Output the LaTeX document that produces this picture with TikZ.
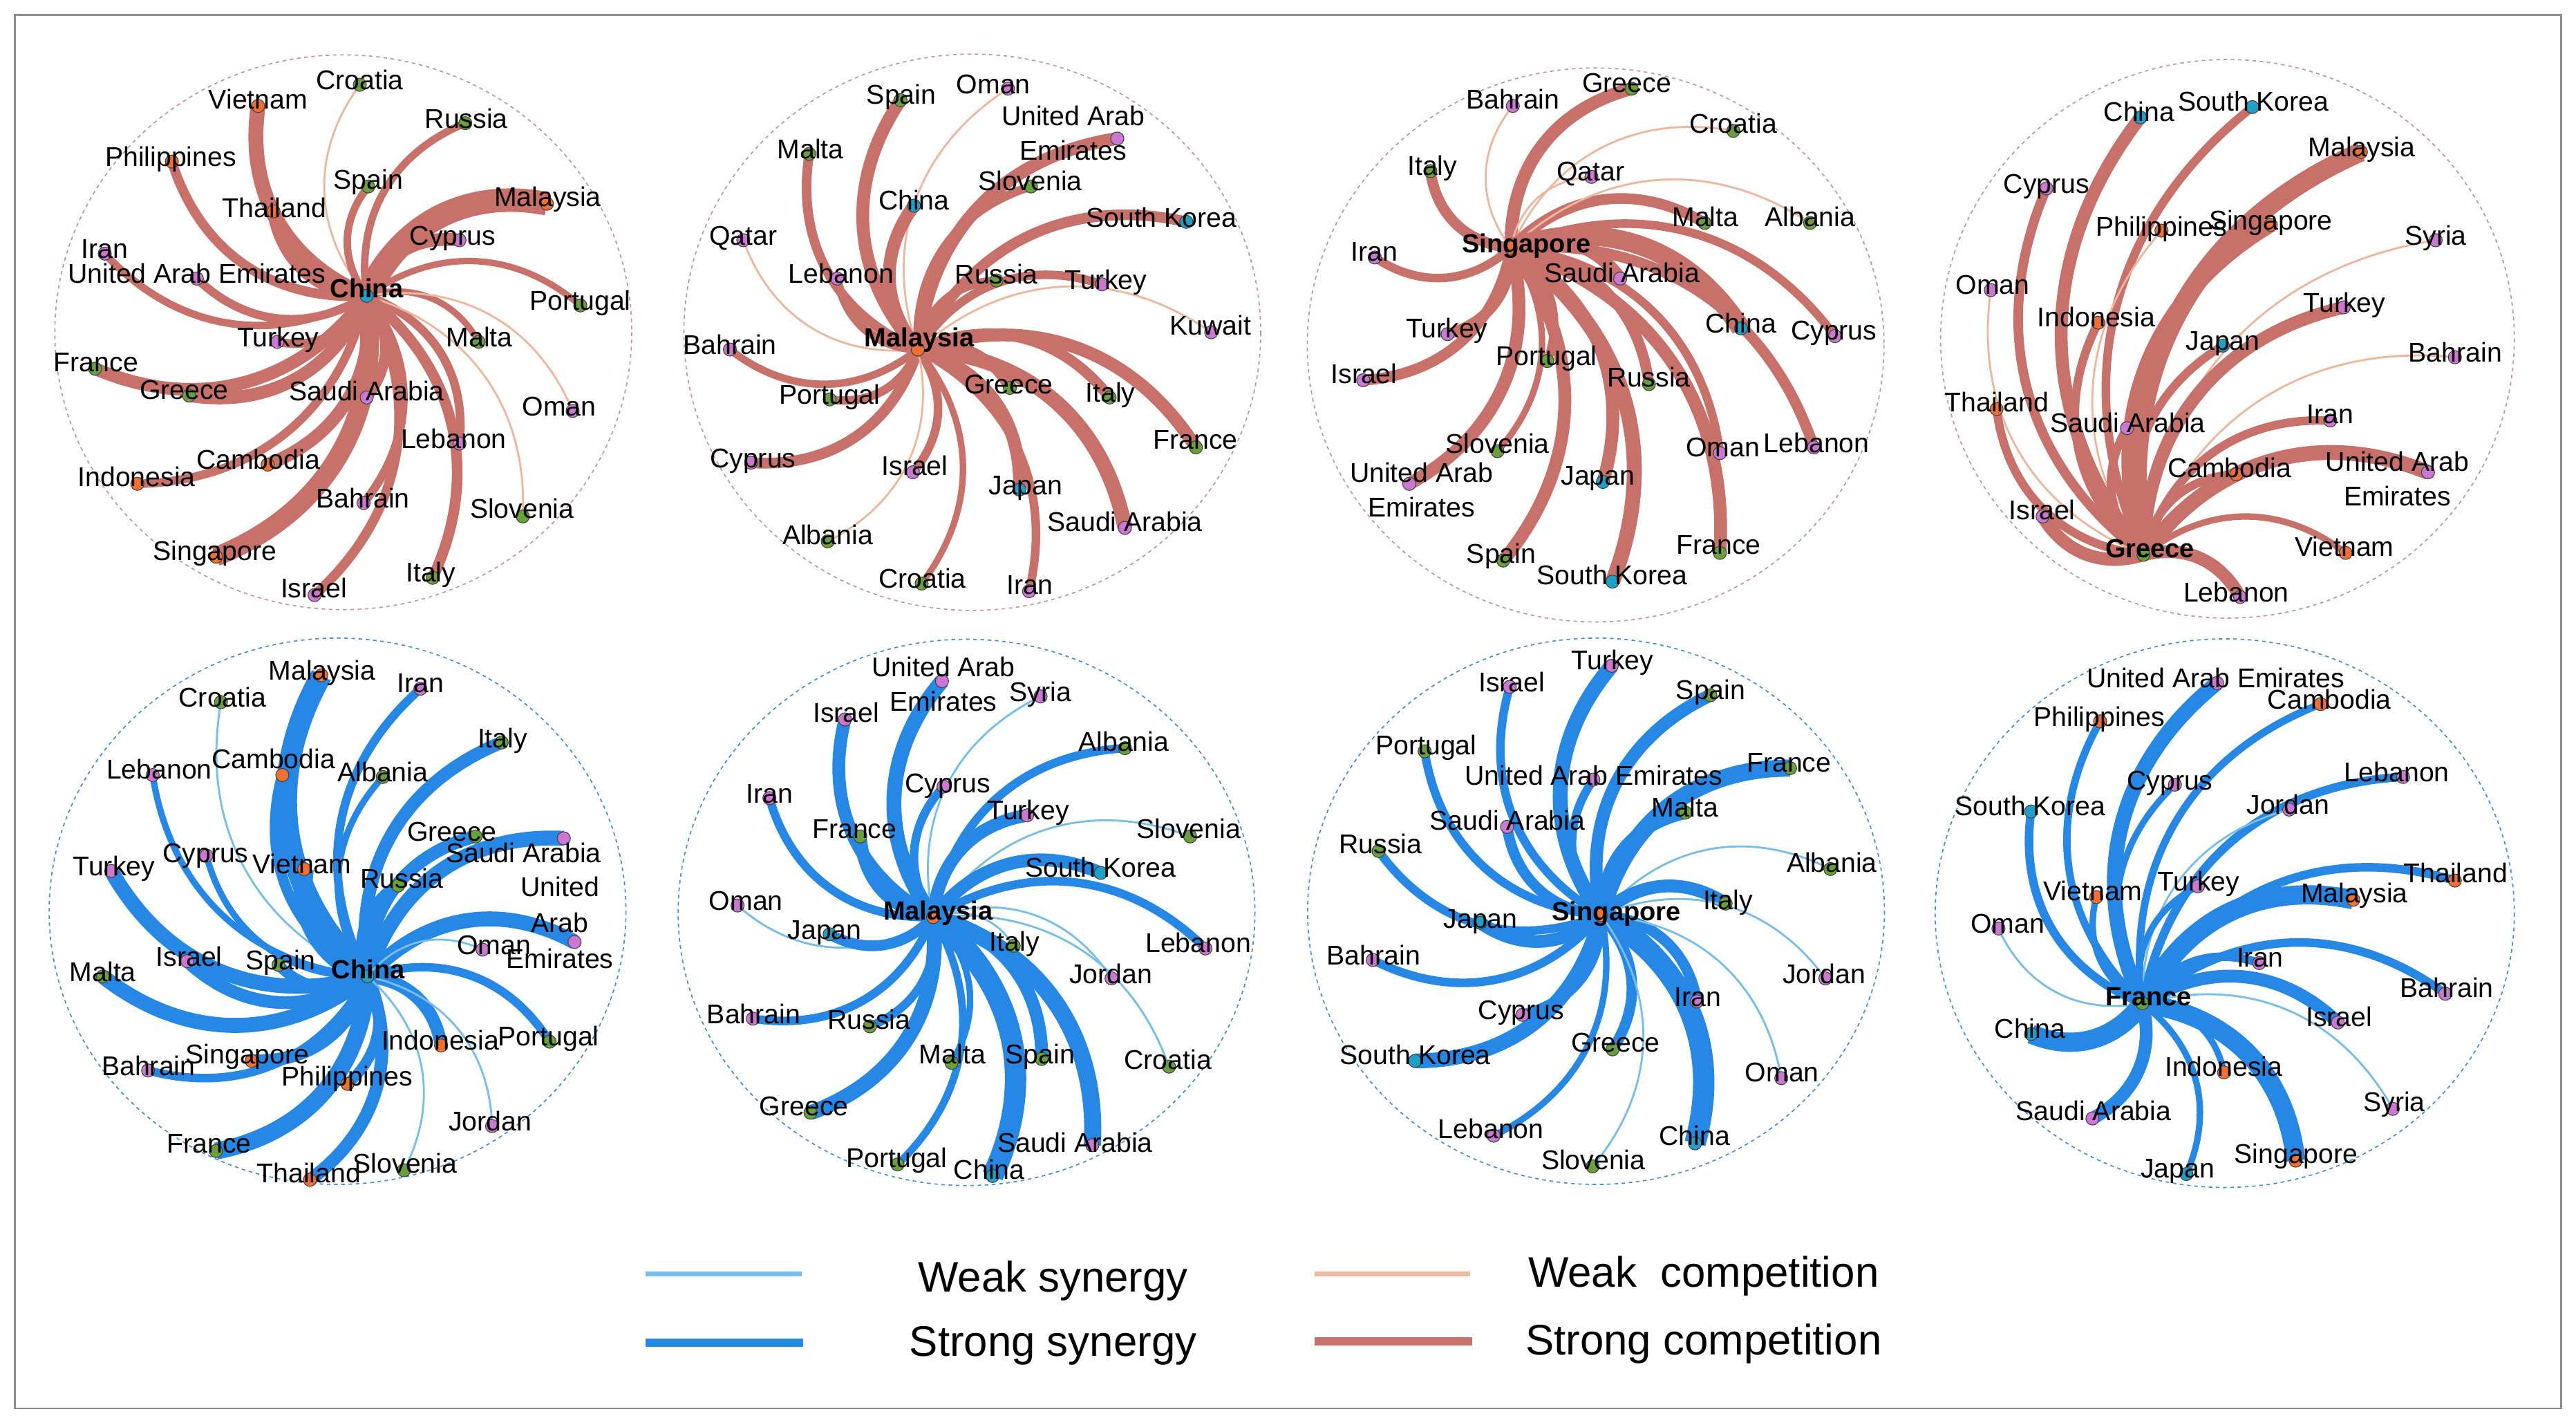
\documentclass[tikz,border=0pt]{standalone}
\usepackage{fontspec}
\setmainfont{Liberation Sans}
\usetikzlibrary{calc}
\pgfdeclarelayer{back}\pgfdeclarelayer{bg}\pgfdeclarelayer{fg}\pgfsetlayers{back,bg,main,fg}
\definecolor{csC}{RGB}{200,112,106}
\definecolor{cwC}{RGB}{236,184,158}
\definecolor{csS}{RGB}{38,136,228}
\definecolor{cwS}{RGB}{120,190,232}
\definecolor{grn}{RGB}{106,160,58}
\definecolor{pur}{RGB}{204,120,210}
\definecolor{org}{RGB}{240,112,50}
\definecolor{cyn}{RGB}{30,160,200}
\definecolor{ringT}{RGB}{195,150,150}
\definecolor{ringB}{RGB}{70,140,200}
\newcommand\twol[2]{\makebox[0pt]{#1}\makebox[0pt]{\raisebox{-21pt}[0pt][0pt]{#2}}}
\newcommand\threel[3]{\makebox[0pt]{#1}\makebox[0pt]{\raisebox{-22pt}[0pt][0pt]{#2}}\makebox[0pt]{\raisebox{-44pt}[0pt][0pt]{#3}}}
\tikzset{
  dot/.style={circle, draw=black!75, line width=0.45pt, inner sep=0pt, minimum size=8pt},
  lbl/.style={font=\fontsize{16.5}{19}\selectfont, inner sep=0pt, text height=11.8pt, text depth=0pt, anchor=center, yshift=1.8pt},
  hublbl/.style={lbl, font=\fontsize{16}{19}\selectfont\bfseries},
  cs/.style={draw=csC},
  cw/.style={draw=cwC},
  ss/.style={draw=csS},
  sw/.style={draw=cwS},
  ringtop/.style={draw=ringT, line width=0.7pt, dash pattern=on 2.2pt off 2.2pt},
  ringbot/.style={draw=ringB, line width=0.7pt, dash pattern=on 2.2pt off 2.2pt},
  leglbl/.style={font=\fontsize{26}{30}\selectfont, inner sep=0pt, text height=18.6pt, text depth=0pt, anchor=center},
  pscope/.style={scale=0.23344}
}
\newcommand\spokes[2]{%
  \foreach \nm/\px/\py/\col/\lx/\ly/\es/\ew [count=\i] in #2 {%
    \pgfmathsetmacro\lw{\ew>1.5 ? 1.3*\ew : \ew}%
    \node[dot, fill=\col] (#1-\i) at (\px,\py) {};
    \begin{pgfonlayer}{fg}\node[lbl] at (\lx,\ly) {\nm};\end{pgfonlayer}
    \begin{pgfonlayer}{bg}\draw[\es, line width=\lw pt] (#1.center) .. controls ($(#1.center)!0.40!38:(#1-\i.center)$) and ($(#1-\i.center)!0.40!-38:(#1.center)$) .. (#1-\i.center);\end{pgfonlayer}
  }}
\def\PA{Croatia/830/140/grn/830/135/cw/1.2,
Vietnam/565/195/org/565/185/cs/7,
Russia/1105/240/grn/1108/235/cs/3.5,
Philippines/340/340/org/337/335/cs/4.5,
Spain/852/405/grn/852/395/cs/3.5,
Malaysia/1318/450/org/1320/440/cs/11,
Thailand/605/470/org/607/468/cs/6,
Cyprus/1090/545/pur/1072/540/cs/6,
Iran/165/580/pur/165/575/cs/3.5,
United Arab Emirates/405/645/pur/405/640/cs/4,
Portugal/1405/715/grn/1405/710/cs/3,
Turkey/615/810/pur/617/805/cs/4,
Malta/1140/810/grn/1142/805/cs/3,
France/140/880/grn/142/870/cs/6,
Greece/385/950/grn/372/943/cs/6,
Saudi Arabia/848/955/pur/848/945/cs/5,
Oman/1385/990/pur/1350/985/cw/1.2,
Lebanon/1090/1075/pur/1075/1070/cs/4,
Cambodia/590/1130/org/565/1125/cs/6,
Indonesia/250/1180/org/248/1170/cs/4,
Bahrain/840/1230/pur/838/1225/cs/4,
Slovenia/1255/1265/grn/1253/1252/cw/1.2,
Singapore/455/1370/org/452/1362/cs/9,
Italy/1020/1425/grn/1015/1418/cs/5,
Israel/712/1470/pur/710/1460/cs/4.5}
\def\PB{Oman/880/150/pur/842/145/cw/1.2,
Spain/600/180/grn/602/172/cs/6,
\twol{United Arab}{Emirates}/1165/280/pur/1050/228/cs/6,
Malta/362/320/grn/365/315/cs/4.5,
Slovenia/940/405/grn/938/398/cs/4,
China/635/455/cyn/635/448/cs/6,
Qatar/190/545/pur/190/540/cw/1.2,
South Korea/1345/497/cyn/1280/493/cs/5,
Lebanon/435/645/pur/445/640/cs/4,
Russia/850/650/grn/850/642/cs/4,
Turkey/1125/660/pur/1135/655/cs/4,
Kuwait/1410/785/pur/1408/775/cw/1.2,
Bahrain/155/830/pur/155/825/cs/3.5,
Portugal/415/960/grn/415/955/cs/4,
Greece/885/930/grn/882/928/cs/5,
Italy/1145/955/grn/1147/950/cs/5,
France/1370/1085/grn/1369/1072/cs/6,
Cyprus/210/1125/pur/215/1120/cs/5,
Israel/632/1150/pur/637/1140/cs/4,
Japan/910/1195/cyn/926/1190/cs/6,
Saudi Arabia/1185/1295/pur/1185/1287/cs/7,
Albania/410/1330/grn/410/1320/cw/1.2,
Croatia/655/1440/grn/657/1435/cs/3,
Iran/935/1460/pur/937/1450/cs/4}
\def\PC{Greece/870/150/grn/857/142/cs/6,
Bahrain/560/195/pur/560/185/cw/1.2,
Croatia/1135/260/grn/1135/248/cw/1.2,
Italy/345/365/grn/350/358/cs/5,
Qatar/765/380/pur/763/372/cw/1.2,
Malta/1060/500/grn/1062/492/cs/5,
Albania/1335/500/grn/1335/492/cw/1.2,
Iran/200/590/pur/199/582/cs/4,
Saudi Arabia/840/645/pur/845/637/cs/6,
China/1155/775/cyn/1155/770/cs/9,
Cyprus/1400/795/pur/1397/788/cs/4,
Turkey/390/790/pur/388/782/cs/5,
Israel/170/910/pur/172/900/cs/5,
Portugal/650/860/grn/648/853/cs/4,
Russia/915/920/grn/915/910/cs/5,
Slovenia/520/1095/grn/520/1082/cs/3,
\twol{United Arab}{Emirates}/290/1180/pur/322/1158/cs/6,
Japan/795/1175/cyn/782/1165/cs/6,
Oman/1100/1100/pur/1108/1092/cs/4,
Lebanon/1345/1085/pur/1352/1080/cs/5,
Spain/535/1380/grn/530/1370/cs/6,
France/1100/1360/grn/1097/1345/cs/6,
South Korea/820/1435/cyn/819/1425/cs/7}
\def\PD{China/560/225/cyn/557/218/cs/6,
South Korea/852/198/cyn/855/190/cs/4,
Malaysia/1135/315/org/1137/310/cs/9,
Cyprus/315/410/pur/315/405/cs/4.5,
Philippines/615/520/org/615/517/cw/1.2,
Singapore/900/505/org/900/500/cs/7,
Syria/1330/545/pur/1330/540/cw/1.2,
Oman/170/675/pur/175/668/cw/1.2,
Indonesia/450/760/org/445/752/cs/4,
Turkey/1090/720/pur/1092/715/cs/6,
Japan/775/820/cyn/775/815/cs/4,
Bahrain/1380/850/pur/1381/845/cw/1.2,
Thailand/185/985/org/185/975/cs/4,
Saudi Arabia/525/1035/pur/527/1028/cs/4,
Iran/1055/1015/pur/1055/1005/cs/4,
Cambodia/810/1155/org/792/1145/cs/4,
\twol{United Arab}{Emirates}/1310/1150/pur/1230/1130/cs/7,
Israel/305/1265/pur/304/1255/cs/6,
Vietnam/1095/1360/org/1092/1352/cs/3,
Lebanon/820/1475/pur/810/1470/cs/6}
\def\PE{Malaysia/730/120/org/732/115/ss/10,
Iran/988/155/pur/988/147/ss/4,
Croatia/468/190/grn/472/185/sw/1.2,
Italy/1200/295/grn/1202/292/ss/6,
Lebanon/290/380/pur/307/372/ss/3,
Cambodia/628/380/org/605/345/ss/5,
Albania/890/385/grn/890/380/ss/3,
Greece/1132/540/grn/1070/535/ss/6,
Saudi Arabia/1362/545/pur/1257/590/ss/7,
Cyprus/430/590/pur/428/590/ss/3,
Turkey/182/630/pur/189/625/ss/7,
Vietnam/685/625/org/679/620/ss/9,
Russia/930/668/grn/940/657/ss/6,
\threel{United}{Arab}{Emirates}/1390/815/pur/1352/678/ss/7,
Oman/1150/835/pur/1180/830/sw/1.2,
Israel/380/865/pur/385/860/ss/6,
Spain/618/875/grn/623/870/ss/5,
Malta/160/905/grn/160/900/ss/7,
Indonesia/1042/1085/org/1040/1078/ss/6,
Portugal/1325/1075/grn/1322/1068/ss/4,
Singapore/548/1125/org/537/1115/ss/6,
Bahrain/278/1150/pur/279/1145/ss/4,
Philippines/798/1185/org/797/1172/ss/5,
Jordan/1175/1295/pur/1170/1290/sw/1.2,
France/455/1360/grn/437/1348/ss/8,
Thailand/700/1435/org/697/1425/ss/6,
Slovenia/945/1410/grn/948/1400/sw/1.2}
\def\PF{\twol{United Arab}{Emirates}/708/135/pur/712/105/ss/7,
Syria/965/175/pur/965/170/sw/1.2,
Israel/455/235/pur/458/225/ss/6,
Albania/1185/310/grn/1182/300/ss/4,
Cyprus/712/410/pur/723/408/ss/4,
Iran/258/440/pur/258/435/ss/4,
Turkey/930/485/pur/933/478/ss/6,
France/495/540/grn/480/528/ss/6,
Slovenia/1355/540/grn/1351/527/sw/1.2,
South Korea/1122/635/cyn/1121/628/ss/6,
Oman/175/720/pur/197/715/sw/1.2,
Japan/415/795/cyn/402/790/ss/5,
Italy/895/825/grn/897/822/sw/1.2,
Lebanon/1395/832/pur/1376/825/ss/4,
Jordan/1150/910/pur/1148/905/sw/1.2,
Bahrain/215/1015/pur/217/1010/ss/4,
Russia/520/1035/grn/518/1025/ss/4,
Malta/733/1130/grn/735/1115/ss/3,
Spain/968/1120/grn/964/1115/ss/6,
Croatia/1300/1140/grn/1297/1130/sw/1.2,
Greece/365/1260/grn/348/1250/ss/7,
Saudi Arabia/1100/1345/pur/1055/1345/ss/8,
Portugal/592/1395/grn/590/1385/ss/3.5,
China/840/1425/cyn/831/1415/ss/10}
\def\PG{Turkey/818/95/pur/820/88/ss/7,
Israel/552/150/pur/557/145/ss/4,
Spain/1075/172/grn/1076/165/ss/6,
Portugal/330/318/grn/334/310/ss/4,
France/1283/362/grn/1280/355/ss/8,
United Arab Emirates/770/392/pur/771/388/ss/4,
Malta/1010/478/grn/1009/472/ss/6,
Saudi Arabia/545/515/pur/546/505/ss/5,
Russia/210/578/grn/215/567/ss/4,
Albania/1388/625/grn/1392/615/sw/1.2,
Italy/1115/715/grn/1121/713/ss/6,
Japan/475/765/cyn/476/762/ss/6,
Bahrain/195/862/pur/197/857/ss/4,
Jordan/1375/910/pur/1372/905/sw/1.2,
Iran/1040/970/pur/1042/965/ss/5,
Cyprus/585/1005/pur/582/1000/ss/5,
Greece/820/1095/grn/828/1085/ss/5,
South Korea/305/1125/cyn/306/1117/ss/7,
Oman/1260/1170/pur/1262/1162/sw/1.2,
Lebanon/510/1320/pur/503/1310/ss/3,
China/1035/1340/cyn/1034/1327/ss/10,
Slovenia/768/1400/grn/770/1390/sw/1.2}
\def\PH{United Arab Emirates/760/140/pur/756/135/ss/7,
Cambodia/1030/195/org/1053/190/ss/3.5,
Philippines/455/240/org/453/235/ss/3.5,
Lebanon/1245/385/pur/1228/380/ss/4,
Cyprus/650/405/pur/637/402/ss/3,
Jordan/948/470/pur/945/465/sw/1.2,
South Korea/275/475/cyn/273/467/ss/4,
Thailand/1380/655/org/1382/642/ss/4,
Turkey/710/670/pur/712/665/ss/3,
Vietnam/445/698/org/436/690/ss/3,
Malaysia/1115/705/org/1118/695/ss/9,
Oman/190/780/pur/214/775/sw/1.2,
Iran/870/870/pur/872/863/ss/4,
Bahrain/1355/950/pur/1359/942/ss/4,
Israel/1075/1025/pur/1078/1018/ss/6,
China/275/1055/cyn/272/1048/ss/9,
Indonesia/778/1155/org/777/1148/ss/3,
Syria/1218/1250/pur/1222/1240/sw/1.2,
Saudi Arabia/435/1275/pur/438/1262/ss/6,
Singapore/965/1385/org/966/1375/ss/9,
Japan/680/1420/cyn/657/1412/ss/3}
\begin{document}
\begin{tikzpicture}[x=1pt, y=-1pt]
\begin{pgfonlayer}{back}
\fill[white] (0,0) rectangle (1568,867);
\end{pgfonlayer}
\useasboundingbox (0,0) rectangle (1568,867);
\draw[black!45, line width=1pt] (9,9) rectangle (1559,857);
% ---- top row: competition
\begin{scope}[shift={(25.24,18.93)}, pscope]
  \draw[ringtop] (787,785) ellipse [x radius=752, y radius=723];
  \node[dot, fill=cyn] (p1) at (848,690) {};
  \begin{pgfonlayer}{fg}\node[hublbl] at (848,678) {China};\end{pgfonlayer}
  \spokes{p1}{\PA}
\end{scope}
\begin{scope}[shift={(408.1,18.93)}, pscope]
  \draw[ringtop] (787,785) ellipse [x radius=752, y radius=725];
  \node[dot, fill=org] (p2) at (645,830) {};
  \begin{pgfonlayer}{fg}\node[hublbl] at (649,805) {Malaysia};\end{pgfonlayer}
  \spokes{p2}{\PB}
\end{scope}
\begin{scope}[shift={(790.1,18.93)}, pscope]
  \draw[ringtop] (776,818) ellipse [x radius=752, y radius=722];
  \node[dot, fill=org] (p3) at (555,565) {};
  \begin{pgfonlayer}{fg}\node[hublbl] at (595,560) {Singapore};\end{pgfonlayer}
  \spokes{p3}{\PC}
\end{scope}
\begin{scope}[shift={(1172.1,18.93)}, pscope]
  \draw[ringtop] (787,802) ellipse [x radius=748, y radius=728];
  \node[dot, fill=grn] (p4) at (568,1365) {};
  \begin{pgfonlayer}{fg}\node[hublbl] at (585,1355) {Greece};\end{pgfonlayer}
  \spokes{p4}{\PD}
\end{scope}
% ---- bottom row: synergy
\begin{scope}[shift={(25.24,382.9)}, pscope]
  \draw[ringbot] (772,735) ellipse [x radius=752, y radius=712];
  \node[dot, fill=cyn] (p5) at (850,905) {};
  \begin{pgfonlayer}{fg}\node[hublbl] at (852,893) {China};\end{pgfonlayer}
  \spokes{p5}{\PE}
\end{scope}
\begin{scope}[shift={(408.1,382.9)}, pscope]
  \draw[ringbot] (772,738) ellipse [x radius=752, y radius=712];
  \node[dot, fill=org] (p6) at (685,750) {};
  \begin{pgfonlayer}{fg}\node[hublbl] at (698,740) {Malaysia};\end{pgfonlayer}
  \spokes{p6}{\PF}
\end{scope}
\begin{scope}[shift={(790.1,382.9)}, pscope]
  \draw[ringbot] (777,735) ellipse [x radius=752, y radius=712];
  \node[dot, fill=org] (p7) at (790,745) {};
  \begin{pgfonlayer}{fg}\node[hublbl] at (830,742) {Singapore};\end{pgfonlayer}
  \spokes{p7}{\PG}
\end{scope}
\begin{scope}[shift={(1172.1,382.9)}, pscope]
  \draw[ringbot] (780,740) ellipse [x radius=755, y radius=715];
  \node[dot, fill=grn] (p8) at (565,975) {};
  \begin{pgfonlayer}{fg}\node[hublbl] at (581,963) {France};\end{pgfonlayer}
  \spokes{p8}{\PH}
\end{scope}
% ---- legend
\coordinate (la1) at (393,775); \coordinate (la2) at (488,775);
\coordinate (lb1) at (393,817); \coordinate (lb2) at (489,817);
\coordinate (lc1) at (800,775); \coordinate (lc2) at (895,775);
\coordinate (ld1) at (800,816); \coordinate (ld2) at (896,816);
\draw[draw=cwS, line width=3pt] (la1) -- (la2);
\draw[draw=csS, line width=5pt] (lb1) -- (lb2);
\draw[draw=cwC, line width=3pt] (lc1) -- (lc2);
\draw[draw=csC, line width=5pt] (ld1) -- (ld2);
\node[leglbl] (lt1) at (641,777) {Weak synergy};
\node[leglbl] (lt2) at (641,816) {Strong synergy};
\node[leglbl] (lt3) at (1037,774) {Weak\ \ competition};
\node[leglbl] (lt4) at (1037,815) {Strong competition};
\end{tikzpicture}
\end{document}
